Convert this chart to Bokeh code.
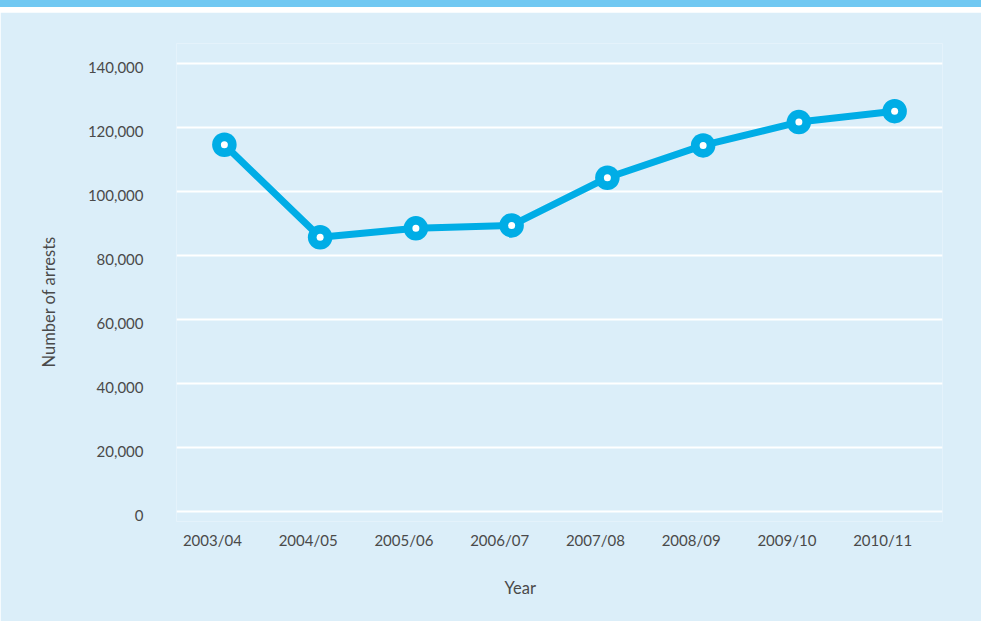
from bokeh.plotting import figure
from bokeh.models import (ColumnDataSource, Range1d, LinearAxis, FixedTicker,
                          NumeralTickFormatter, Grid, Title, Div, Spacer)
from bokeh.layouts import column
from bokeh.embed import file_html
from bokeh.resources import INLINE

# ---- data ----
years = ["2003/04", "2004/05", "2005/06", "2006/07", "2007/08", "2008/09", "2009/10", "2010/11"]
arrests = [114600, 85700, 88500, 89400, 104300, 114400, 121700, 125100]
y_ticks = [0, 20000, 40000, 60000, 80000, 100000, 120000, 140000]
x_title = "Year"
y_title = "Number of arrests"

BG = "#dbeef9"
BAND = "#70c8f2"
LINE = "#00ade6"
TXT = "#4a4a4a"
FONT = "Lato"

xpos = [i + 0.5 for i in range(len(years))]
src = ColumnDataSource(dict(x=xpos, year=years, n=arrests))

p = figure(width=981, height=609, output_backend="svg", toolbar_location=None,
           x_range=Range1d(0, len(years)), y_range=Range1d(-3125, 146250),
           x_axis_location=None, y_axis_location=None,
           background_fill_color=BG, border_fill_color=BG, outline_line_color=None,
           min_border_left=176, min_border_right=39, min_border_top=31, min_border_bottom=100)

p.center = [r for r in p.center if not isinstance(r, Grid)]

p.extra_x_ranges = {"lab": Range1d(0.125, len(years) + 0.125)}
p.extra_y_ranges = {"ylab": Range1d(-3125 + 1094, 146250 + 1094)}

grid = Grid(dimension=1, ticker=FixedTicker(ticks=y_ticks), grid_line_color="white", grid_line_width=2)
p.add_layout(grid)

yax = LinearAxis(y_range_name="ylab", ticker=FixedTicker(ticks=y_ticks),
                 formatter=NumeralTickFormatter(format="0,0"))
xax = LinearAxis(x_range_name="lab", ticker=FixedTicker(ticks=xpos),
                 major_label_overrides={x: y for x, y in zip(xpos, years)})
for ax in (xax, yax):
    ax.axis_line_color = None
    ax.major_tick_line_color = None
    ax.minor_tick_line_color = None
    ax.major_tick_out = 0
    ax.major_tick_in = 0
    ax.major_label_text_font = FONT
    ax.major_label_text_font_size = "15px"
    ax.major_label_text_color = TXT
yax.major_label_standoff = 33
xax.major_label_standoff = 9
p.add_layout(yax, "left")
p.add_layout(xax, "below")

p.add_layout(Title(text=y_title, align="left", offset=154, standoff=52, text_font=FONT,
                   text_font_size="16.5px", text_font_style="normal", text_color=TXT), "left")
p.add_layout(Title(text=x_title, align="left", offset=328, standoff=48, text_font=FONT,
                   text_font_size="16.5px", text_font_style="normal", text_color=TXT), "below")

p.line("x", "n", source=src, line_width=7, line_color=LINE)
p.scatter("x", "n", source=src, size=24.5, fill_color=LINE, line_color=None)
p.scatter("x", "n", source=src, size=7, fill_color="white", line_color=None)

band = Div(text="", width=981, height=7, margin=0, styles={"background-color": BAND})
gap = Spacer(width=981, height=5, margin=0)
layout = column(band, gap, p, spacing=0)

open("out.html", "w").write(file_html(layout, INLINE))
